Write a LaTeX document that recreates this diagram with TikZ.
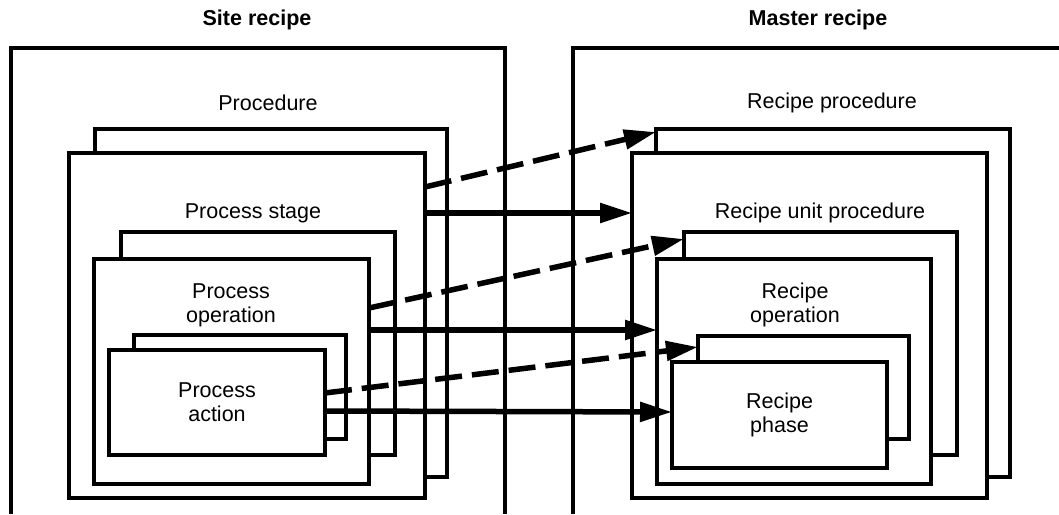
\documentclass[tikz,border=0pt]{standalone}
\usepackage{fontspec}
\setmainfont{Liberation Sans}
\usepackage{tikz}
\usetikzlibrary{arrows.meta}

\begin{document}
\begin{tikzpicture}[
    x = 1pt, y = -1pt,
    font = \fontsize{21.5}{24}\selectfont,
    frame/.style = {line width = 3.5pt},
    box/.style = {
      draw,
      fill = white,
      line width = 3.5pt,
      inner sep = 0pt,
      outer sep = 0pt,
      anchor = north west,
      align = center
    },
    link/.style = {
      line width = 5.5pt,
      -{Triangle[length=32pt, width=19pt]}
    },
    maybe/.style = {link, dash pattern = on 27pt off 10pt}
  ]

  \useasboundingbox (0,0) rectangle (1059,514);

  % the two recipes
  \draw[frame] (11,514) -- (11,48) -- (505,48) -- (505,514);
  \draw[frame] (573,514) -- (573,48) -- (1059,48);
  \node[font = \fontsize{21.5}{24}\selectfont\bfseries] (site) at (257,20) {Site recipe};
  \node[font = \fontsize{21.5}{24}\selectfont\bfseries] (master) at (818,20) {Master recipe};

  % site recipe side
  \node (procL) at (268,103) {Procedure};
  \node[box, minimum width = 352, minimum height = 348] (procB) at (95,129) {};
  \node[box, minimum width = 356, minimum height = 345] (procF) at (69,153) {};
  \node (stageL) at (253,213) {Process stage};
  \node[box, minimum width = 274, minimum height = 223] (stageB) at (121,232) {};
  \node[box, minimum width = 275, minimum height = 225] (stageF) at (94,259) {};
  \node[align = center] (opL) at (231,305) {Process\\operation};
  \node[box, minimum width = 212, minimum height = 104] (opB) at (134,335) {};
  \node[box, minimum width = 216, minimum height = 105] (opF) at (109,350) {Process\\action};

  % master recipe side
  \node (rpL) at (832,103) {Recipe procedure};
  \node[box, minimum width = 354, minimum height = 348] (rpB) at (656,129) {};
  \node[box, minimum width = 355, minimum height = 345] (rpF) at (632,153) {};
  \node (rupL) at (820,213) {Recipe unit procedure};
  \node[box, minimum width = 273, minimum height = 223] (rupB) at (684,232) {};
  \node[box, minimum width = 274, minimum height = 225] (rupF) at (657,259) {};
  \node[align = center] (roL) at (795,305) {Recipe\\operation};
  \node[box, minimum width = 211, minimum height = 103] (roB) at (698,336) {};
  \node[box, minimum width = 215, minimum height = 106] (roF) at (672,362) {Recipe\\phase};

  \draw[maybe] ([yshift=-34pt]procF.north east) -- ([yshift=-3pt]rpB.north west);
  \draw[link] ([yshift=-60pt]procF.north east) -- ([yshift=-60pt]rpF.north west);
  \draw[maybe] ([yshift=-49pt]stageF.north east) -- ([yshift=-7pt]rupB.north west);
  \draw[link] ([yshift=-71pt]stageF.north east) -- ([yshift=-71pt]rupF.north west);
  \draw[maybe] ([yshift=-43pt]opF.north east) -- ([yshift=-11pt]roB.north west);
  \draw[link] ([yshift=-61pt]opF.north east) -- ([yshift=-50pt]roF.north west);

\end{tikzpicture}
\end{document}
